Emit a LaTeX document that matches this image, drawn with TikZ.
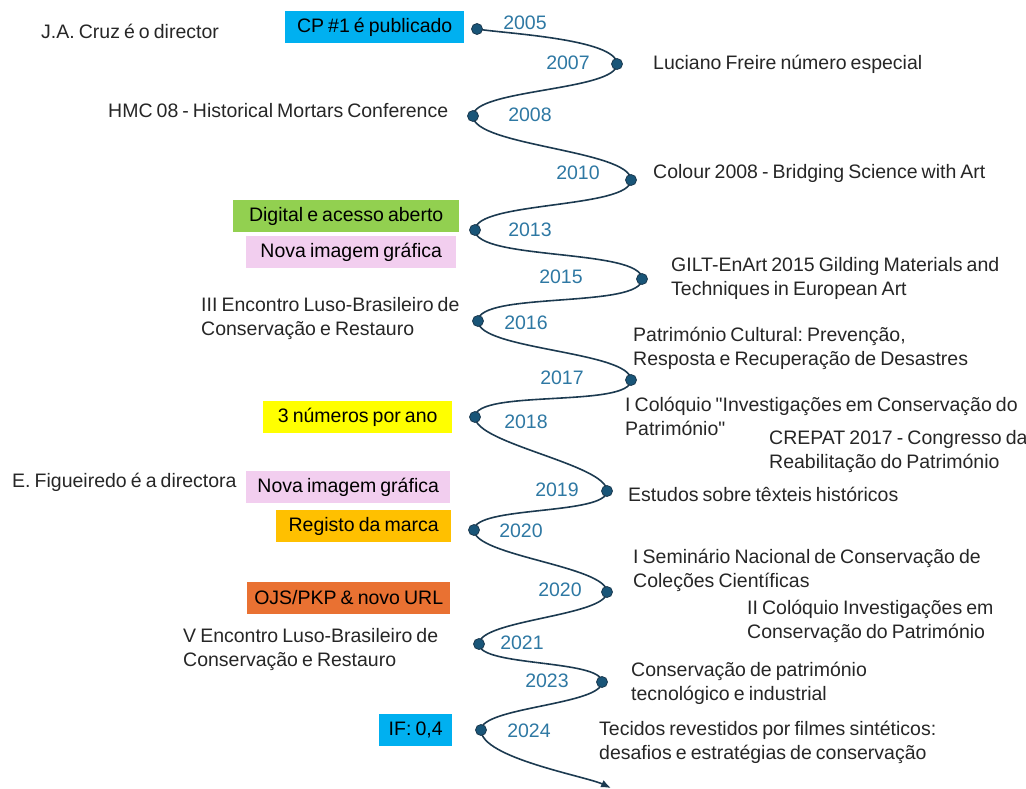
\documentclass[tikz,border=0pt]{standalone}
\usepackage{fontspec}
\setmainfont{Liberation Sans}[WordSpace=0.75,Ligatures=TeXOff]
\usepackage{tikz}
\definecolor{wavecol}{RGB}{28,58,80}
\definecolor{dotcol}{RGB}{25,85,120}
\definecolor{yearcol}{RGB}{46,120,163}
\definecolor{textcol}{RGB}{38,38,38}
\definecolor{cpblue}{RGB}{0,176,240}
\definecolor{digitalgreen}{RGB}{146,208,80}
\definecolor{novapink}{RGB}{242,206,239}
\definecolor{anoyellow}{RGB}{255,255,0}
\definecolor{marcaorange}{RGB}{255,192,0}
\definecolor{ojsorange}{RGB}{233,113,50}
\usetikzlibrary{
	arrows.meta,
	positioning
}
\frenchspacing
\tikzset{
  % linha do tempo
	cstwave/.style   ={line width=1.6pt, draw=wavecol},
	cstbend/.style   ={out=-90, in=90, looseness=.45},
	cstdot/.style    ={radius=5.5pt, fill=dotcol, draw=wavecol, line width=.8pt},
  % texto
	cstyear/.style   ={text=yearcol, inner sep=0pt, font=\fontsize{19.5}{23}\selectfont},
	cstevent/.style  ={anchor=west, inner sep=0pt, align=left, text=textcol, font=\fontsize{19.5}{24}\selectfont},
	cstbox/.style    ={anchor=west, inner sep=0pt, minimum height=32pt, text=black, font=\fontsize{19.5}{24}\selectfont}
}
\begin{document}
\begin{tikzpicture}[x=1pt,y=-1pt]
	\useasboundingbox (0,0) rectangle (1026,789);
	% pontos
	\coordinate (p05) at (477,29);
	\coordinate (p07) at (617,64);
	\coordinate (p08) at (473,116);
	\coordinate (p10) at (631,180);
	\coordinate (p13) at (475,230);
	\coordinate (p15) at (642,279);
	\coordinate (p16) at (478,321);
	\coordinate (p17) at (631,380);
	\coordinate (p18) at (475,417);
	\coordinate (p19) at (607,491);
	\coordinate (p20a) at (474,530);
	\coordinate (p20b) at (607,592);
	\coordinate (p21) at (479,644);
	\coordinate (p23) at (602,682);
	\coordinate (p24) at (481,730);
	\coordinate (pend) at (611,788);
	\draw[cstwave,-{Latex[length=10pt,width=8pt]}] (p05) to[out=-10,in=90,looseness=.45] (p07)
		to[cstbend] (p08) to[cstbend] (p10) to[cstbend] (p13) to[cstbend] (p15)
		to[cstbend] (p16) to[cstbend] (p17) to[cstbend] (p18) to[cstbend] (p19)
		to[cstbend] (p20a) to[cstbend] (p20b) to[cstbend] (p21) to[cstbend] (p23)
		to[cstbend] (p24) to[out=-90,in=155,looseness=.5] (pend);
	\begin{scope}[cstdot]
		\foreach \p in {p05,p07,p08,p10,p13,p15,p16,p17,p18,p19,p20a,p20b,p21,p23,p24}
			\filldraw (\p) circle;
	\end{scope}
	% anos
	\node[cstyear] (y05) at (525,23) {2005};
	\node[cstyear] (y07) at (568,63) {2007};
	\node[cstyear] (y08) at (530,115) {2008};
	\node[cstyear] (y10) at (578,173) {2010};
	\node[cstyear] (y13) at (530,230) {2013};
	\node[cstyear] (y15) at (561,277) {2015};
	\node[cstyear] (y16) at (526,323) {2016};
	\node[cstyear] (y17) at (562,378) {2017};
	\node[cstyear] (y18) at (526,422) {2018};
	\node[cstyear] (y19) at (557,490) {2019};
	\node[cstyear] (y20a) at (521,531) {2020};
	\node[cstyear] (y20b) at (560,590) {2020};
	\node[cstyear] (y21) at (522,643) {2021};
	\node[cstyear] (y23) at (547,681) {2023};
	\node[cstyear] (y24) at (529,731) {2024};
	% caixas
	\node[cstbox,fill=cpblue,minimum width=179pt] (bcp) at (285,27) {CP \#1 é publicado};
	\node[cstbox,fill=digitalgreen,minimum width=226pt] (bdigital) at (233,216) {Digital e acesso aberto};
	\node[cstbox,fill=novapink,minimum width=210pt] (bnova) at (246,252) {Nova imagem gráfica};
	\node[cstbox,fill=anoyellow,minimum width=189pt] (bano) at (263,417) {3 números por ano};
	\node[cstbox,fill=novapink,minimum width=204pt] (bnovab) at (246,487) {Nova imagem gráfica};
	\node[cstbox,fill=marcaorange,minimum width=175pt] (bmarca) at (276,526) {Registo da marca};
	\node[cstbox,fill=ojsorange,minimum width=203pt] (bojs) at (247,598) {OJS/PKP \& novo URL};
	\node[cstbox,fill=cpblue,minimum width=73pt] (bif) at (379,730) {IF: 0,4};
	% eventos
	\node[cstevent] (ecruz) at (41,31) {J.A. Cruz é o director};
	\node[cstevent] (ehmc) at (108,111) {HMC 08 - Historical Mortars Conference};
	\node[cstevent] (eluso) at (201,318) {III Encontro Luso-Brasileiro de\\Conservação e Restauro};
	\node[cstevent] (efig) at (12,482) {E. Figueiredo é a directora};
	\node[cstevent] (elusob) at (183,649) {V Encontro Luso-Brasileiro de\\Conservação e Restauro};
	\node[cstevent] (efreire) at (653,64) {Luciano Freire número especial};
	\node[cstevent] (ecolour) at (653,173) {Colour 2008 - Bridging Science with Art};
	\node[cstevent] (egilt) at (671,278) {GILT-EnArt 2015 Gilding Materials and\\Techniques in European Art};
	\node[cstevent] (edesastres) at (633,348) {Património Cultural: Prevenção,\\Resposta e Recuperação de Desastres};
	\node[cstevent] (ecoloquio) at (625,416) {I Colóquio "Investigações em Conservação do\\Património"};
	\node[cstevent] (ecrepat) at (769,451) {CREPAT 2017 - Congresso da\\Reabilitação do Património};
	\node[cstevent] (etexteis) at (628,494) {Estudos sobre têxteis históricos};
	\node[cstevent] (eseminario) at (633,570) {I Seminário Nacional de Conservação de\\Coleções Científicas};
	\node[cstevent] (ecoloquiob) at (747,621) {II Colóquio Investigações em\\Conservação do Património};
	\node[cstevent] (etecno) at (631,683) {Conservação de património\\tecnológico e industrial};
	\node[cstevent] (etecidos) at (599,742) {Tecidos revestidos por filmes sintéticos:\\desafios e estratégias de conservação};
\end{tikzpicture}
\end{document}
